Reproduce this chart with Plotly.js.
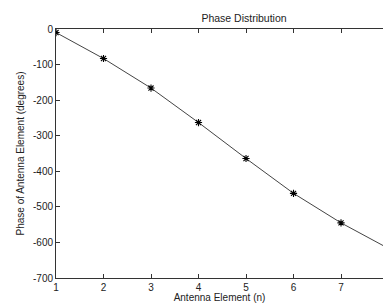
<!DOCTYPE html>
<html>
<head>
<meta charset="utf-8">
<script src="https://cdn.plot.ly/plotly-3.0.1.min.js"></script>
<style>html,body{margin:0;padding:0;background:#fff;}#chart{width:383px;height:303px;}</style>
</head>
<body>
<div id="chart"></div>
<script>
const elements = [1, 2, 3, 4, 5, 6, 7, 8];
const phase = [-10, -83, -166, -263, -364, -462, -545, -617];
const xTicks = [1, 2, 3, 4, 5, 6, 7, 8];
const yTicks = [0, -100, -200, -300, -400, -500, -600, -700];

const font = {family: 'Liberation Sans, Arial, sans-serif', size: 10, color: '#222'};

Plotly.newPlot('chart', [{
  x: elements,
  y: phase,
  type: 'scatter',
  mode: 'lines+markers',
  line: {color: '#444', width: 1},
  marker: {symbol: 'asterisk-open', size: 6, color: '#000', line: {color: '#000', width: 1.1}},
  cliponaxis: true
}], {
  width: 383, height: 303,
  margin: {l: 56, r: 0, t: 29, b: 25, pad: 0},
  paper_bgcolor: '#fff', plot_bgcolor: '#fff',
  font: font,
  showlegend: false,
  title: {text: 'Phase Distribution', font: {family: font.family, size: 10.5, color: '#222'},
          x: 0.575, xref: 'paper', xanchor: 'center', y: 1 - 18/303, yref: 'container', yanchor: 'middle'},
  xaxis: {
    range: [1, 7.884], tickvals: xTicks, ticktext: xTicks.map(String),
    ticks: 'inside', ticklen: 4, tickcolor: '#333', tickwidth: 1,
    showline: true, linecolor: '#333', linewidth: 1, mirror: 'ticks',
    showgrid: false, zeroline: false,
    tickfont: font,
    title: {text: 'Antenna Element (n)', font: font, standoff: 3}
  },
  yaxis: {
    range: [-700, 0], tickvals: yTicks, ticktext: yTicks.map(String),
    ticks: 'inside', ticklen: 4, tickcolor: '#333', tickwidth: 1,
    showline: true, linecolor: '#333', linewidth: 1, mirror: false,
    showgrid: false, zeroline: false,
    tickfont: font,
    title: {text: 'Phase of Antenna Element (degrees)', font: font, standoff: 6}
  }
}, {displayModeBar: false, staticPlot: true});
</script>
</body>
</html>
